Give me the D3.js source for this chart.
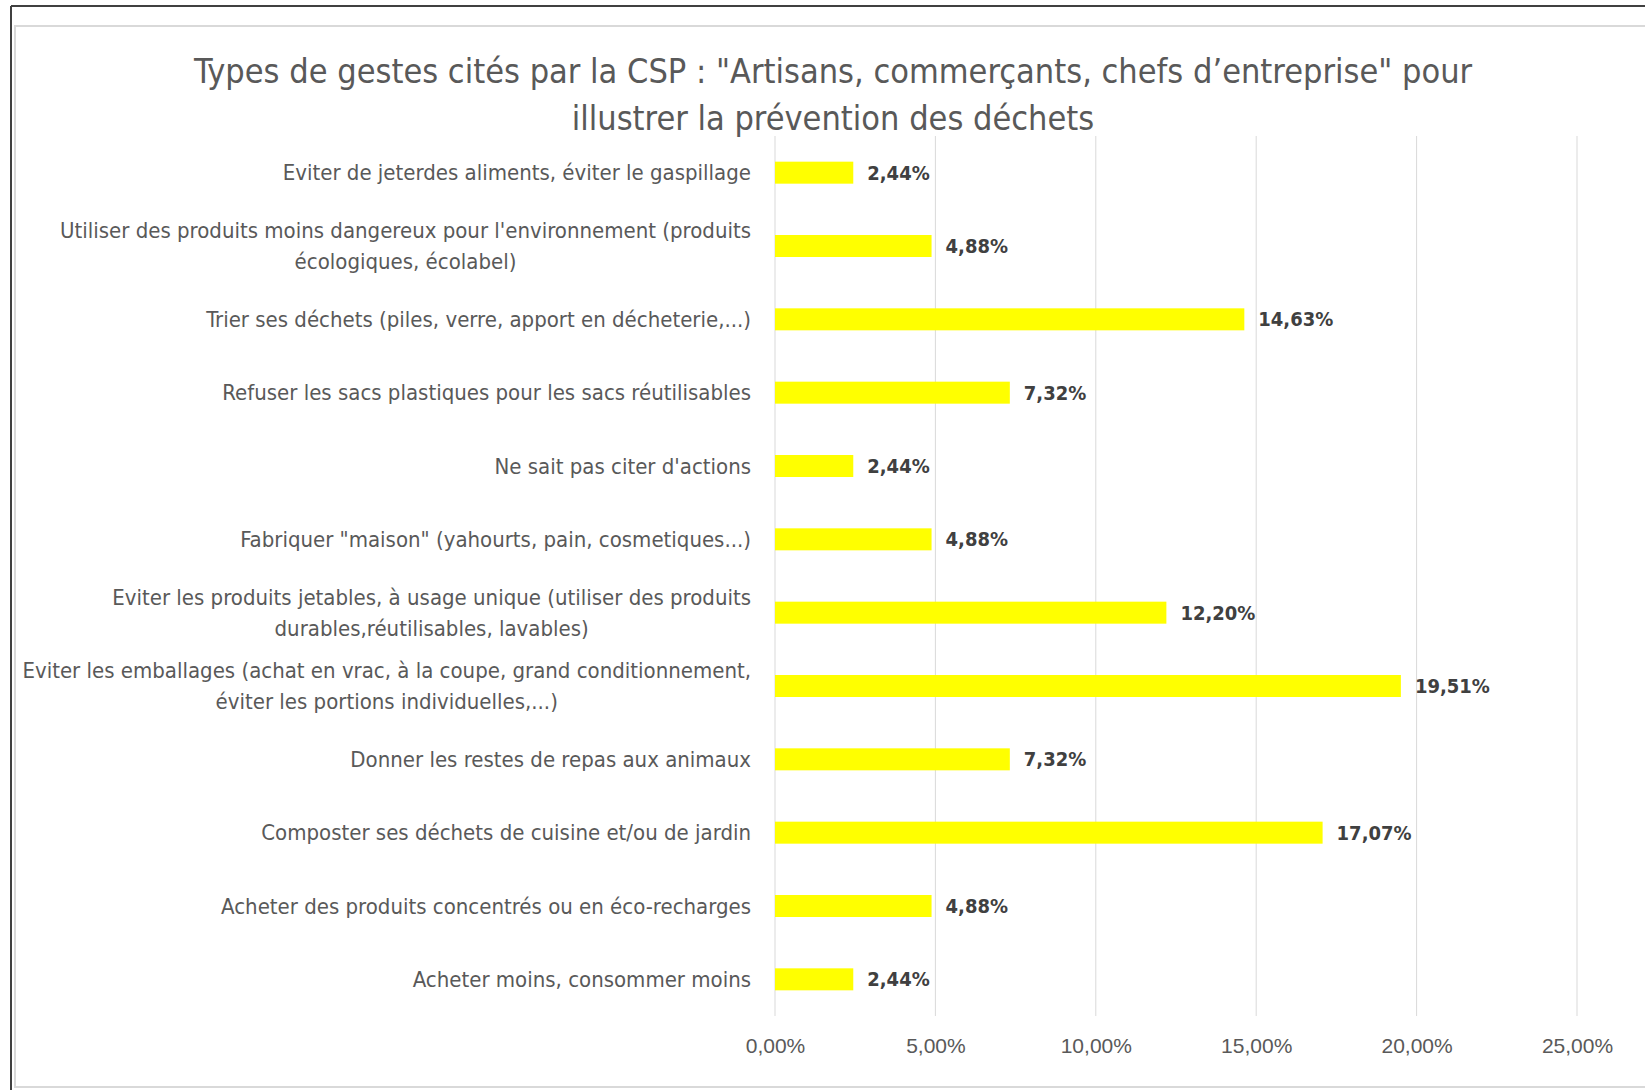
<!DOCTYPE html>
<html>
<head>
<meta charset="utf-8">
<script src="https://cdn.jsdelivr.net/npm/d3@7"></script>
<style>
  html, body { margin: 0; padding: 0; background: #fff; }
  svg { display: block; font-family: "DejaVu Sans Condensed", "DejaVu Sans", sans-serif; }
  .grid line { stroke: #d9d9d9; stroke-width: 1; }
  .catLabel { fill: #595959; font-size: 22px; }
  .valLabel { fill: #404040; font-size: 20px; font-weight: bold; }
  .tick text { fill: #595959; font-size: 21px; }
</style>
</head>
<body>
<div id="chart"></div>
<script>
(function(){
        // categories, top to bottom ("\n" = line break in the label)
        const categories = [
            "Eviter de jeterdes aliments, éviter le gaspillage",
            "Utiliser des produits moins dangereux pour l'environnement (produits\nécologiques, écolabel)",
            "Trier ses déchets (piles, verre, apport en décheterie,...)",
            "Refuser les sacs plastiques pour les sacs réutilisables",
            "Ne sait pas citer d'actions",
            "Fabriquer \"maison\" (yahourts, pain, cosmetiques...)",
            "Eviter les produits jetables, à usage unique (utiliser des produits\ndurables,réutilisables, lavables)",
            "Eviter les emballages (achat en vrac, à la coupe, grand conditionnement,\néviter les portions individuelles,...)",
            "Donner les restes de repas aux animaux",
            "Composter ses déchets de cuisine et/ou de jardin",
            "Acheter des produits concentrés ou en éco-recharges",
            "Acheter moins, consommer moins"
        ];
        const values = [2.44, 4.88, 14.63, 7.32, 2.44, 4.88, 12.20, 19.51, 7.32, 17.07, 4.88, 2.44];
        const tickValues = [0, 5, 10, 15, 20, 25];
        const titleLines = [
            "Types de gestes cités par la CSP : \"Artisans, commerçants, chefs d’entreprise\" pour",
            "illustrer la prévention des déchets"
        ];

        const width = 1645;
        const height = 1090;
        const plot = { left: 775, right: 1577, top: 136, bottom: 1016 };
        const labelRight = 751;

        const fmt = v => v.toFixed(2).replace(".", ",") + "%";

        const svg = d3.select("#chart")
            .append("svg")
            .attr("width", width)
            .attr("height", height);

        // outer frame (dark, top + left) and chart area border
        svg.append("rect")
            .attr("x", 15).attr("y", 26)
            .attr("width", width + 10).attr("height", 1061)
            .style("fill", "#fff")
            .style("stroke", "#d9d9d9")
            .style("stroke-width", 2);
        svg.append("line")
            .attr("x1", 11).attr("y1", 6).attr("x2", width).attr("y2", 6)
            .style("stroke", "#404040").style("stroke-width", 2);
        svg.append("line")
            .attr("x1", 11).attr("y1", 6).attr("x2", 11).attr("y2", height)
            .style("stroke", "#404040").style("stroke-width", 2);

        // scales
        const x = d3.scaleLinear()
            .domain([0, 25])
            .range([plot.left, plot.right]);
        const y = d3.scaleBand()
            .domain(categories)
            .range([plot.top, plot.bottom])
            .paddingInner(0.7)
            .paddingOuter(0.35);

        // vertical gridlines
        svg.append("g")
            .attr("class", "grid")
            .selectAll("line")
            .data(tickValues)
            .enter().append("line")
            .attr("x1", d => x(d)).attr("x2", d => x(d))
            .attr("y1", plot.top).attr("y2", plot.bottom);

        // x axis labels
        const xAxis = d3.axisBottom(x)
            .tickValues(tickValues)
            .tickFormat(fmt)
            .tickSize(0)
            .tickPadding(0);
        const gx = svg.append("g")
            .attr("transform", `translate(0,${plot.bottom + 22})`)
            .call(xAxis);
        gx.select(".domain").remove();
        gx.selectAll(".tick text").attr("dy", "0.71em").style("font-family", null);

        // bars
        svg.selectAll(".bar")
            .data(values)
            .enter().append("rect")
            .attr("class", "bar")
            .attr("x", x(0))
            .attr("y", (d, i) => y(categories[i]))
            .attr("width", d => x(d) - x(0))
            .attr("height", y.bandwidth())
            .style("fill", "#ffff00");

        // value labels
        svg.selectAll(".valLabel")
            .data(values)
            .enter().append("text")
            .attr("class", "valLabel")
            .attr("x", d => x(d) + 14)
            .attr("y", (d, i) => y(categories[i]) + y.bandwidth() / 2)
            .attr("dy", "0.35em")
            .text(fmt);

        // category labels (multi-line ones centred on each other, block right-aligned)
        const lineH = 31;
        categories.forEach((c, i) => {
            const lines = c.split("\n");
            const cy = y(c) + y.bandwidth() / 2;
            const t = svg.append("text")
                .attr("class", "catLabel")
                .style("text-anchor", "middle");
            lines.forEach((ln, j) => {
                t.append("tspan")
                    .attr("x", 0)
                    .attr("y", cy + (j - (lines.length - 1) / 2) * lineH)
                    .attr("dy", "0.35em")
                    .text(ln);
            });
            let maxW = 0;
            t.selectAll("tspan").each(function(){ maxW = Math.max(maxW, this.getComputedTextLength()); });
            t.attr("transform", `translate(${labelRight - maxW / 2},0)`);
        });

        // title
        svg.append("g")
            .selectAll("text")
            .data(titleLines)
            .enter().append("text")
            .attr("x", 833)
            .attr("y", (d, i) => 71 + i * 47)
            .attr("dy", "0.35em")
            .style("text-anchor", "middle")
            .style("font-size", "34px")
            .style("fill", "#595959")
            .text(d => d);
})();
</script>
</body>
</html>
